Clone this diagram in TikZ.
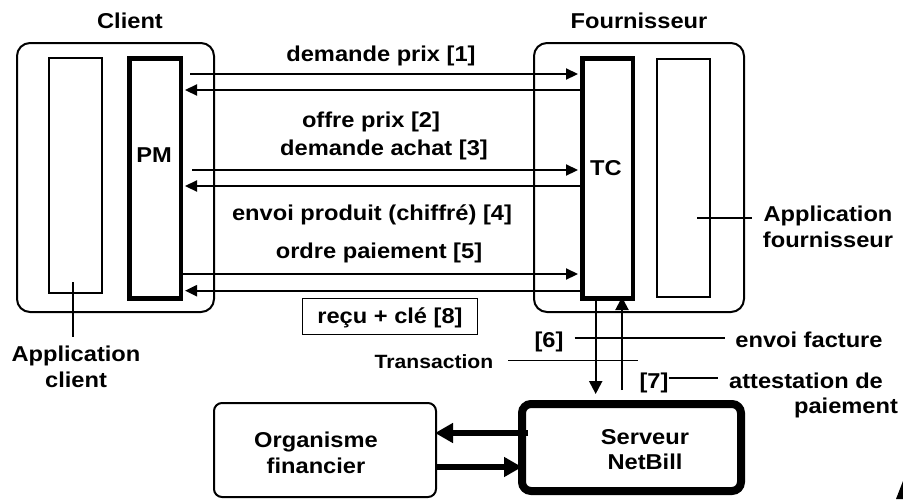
\documentclass[tikz,border=0pt]{standalone}
\usepackage{fontspec}
\setmainfont{Liberation Sans}[FakeStretch=1.1]
\usetikzlibrary{arrows.meta}
\begin{document}
\begin{tikzpicture}[x=1pt,y=-1pt,
  txt/.style={font=\fontsize{21.5}{25.5}\selectfont\bfseries, inner sep=0pt, anchor=base},
  smalltxt/.style={font=\fontsize{19.2}{22}\selectfont\bfseries, inner sep=0pt, anchor=base},
  twoline/.style={font=\fontsize{21.5}{25.5}\selectfont\bfseries, inner sep=0pt, anchor=north, align=center},
  outerbox/.style={draw, line width=2pt, rounded corners=13pt, inner sep=0pt},
  appbox/.style={draw, line width=1.8pt, inner sep=0pt},
  modbox/.style={draw, line width=4.5pt, inner sep=0pt},
  srvbox/.style={draw, line width=8pt, rounded corners=9pt, inner sep=0pt},
  orgbox/.style={draw, line width=2pt, rounded corners=8pt, inner sep=0pt},
  recubox/.style={draw, line width=1.3pt, inner sep=0pt, font=\fontsize{21.5}{25.5}\selectfont\bfseries, text height=15.5pt, text depth=2pt},
  arr/.style={line width=2.2pt, -{Triangle[length=12pt,width=11pt]}},
  varr/.style={line width=2.2pt, -{Triangle[length=13pt,width=13pt]}},
  bigarr/.style={line width=5.5pt, -{Triangle[length=18pt,width=19pt]}},
  leader/.style={line width=1.3pt}
]
\useasboundingbox (0,0) rectangle (903,499);

% containers and modules
\node[outerbox, minimum width=197pt, minimum height=269pt] (client) at (115.5,177.5) {};
\node[outerbox, minimum width=210pt, minimum height=269pt] (four) at (639,177.5) {};
\node[appbox, minimum width=53pt, minimum height=235pt] (appc) at (75.5,175.5) {};
\node[appbox, minimum width=53pt, minimum height=238pt] (appf) at (683.5,177.8) {};
\node[modbox, minimum width=51.5pt, minimum height=240pt] (pm) at (155,178.3) {};
\node[modbox, minimum width=50.5pt, minimum height=240pt] (tc) at (607.5,178.3) {};
\node[srvbox, minimum width=219pt, minimum height=87pt] (srv) at (631.5,447.5) {};
\node[orgbox, minimum width=222pt, minimum height=94pt] (org) at (325,450) {};
\node[recubox, minimum width=175pt, minimum height=36pt] (recu) at (390,316.5) {reçu + clé [8]};

% titles and texts
\node[txt] (clientt) at (130,28) {Client};
\node[txt] (fourt) at (639,28) {Fournisseur};
\node[txt] (pmt) at (154,162.5) {PM};
\node[txt] (tct) at (606,175.5) {TC};
\node[txt] (m1) at (381,61.5) {demande prix [1]};
\node[txt] (m2) at (371,127.5) {offre prix [2]};
\node[txt] (m3) at (384,155.5) {demande achat [3]};
\node[txt] (m4) at (372,220.5) {envoi produit (chiffré) [4]};
\node[txt] (m5) at (379,258.5) {ordre paiement [5]};
\node[twoline] (srvt) at (645,429) {Serveur\\NetBill};
\node[twoline] (orgt) at (316,432) {Organisme\\financier};
\node[twoline] (appcl) at (76,346) {Application\\client};
\node[twoline] (appfl) at (828,206) {Application\\fournisseur};
\node[txt] (l6) at (549,347) {[6]};
\node[txt] (ef) at (809,347) {envoi facture};
\node[smalltxt] (trans) at (434,368.5) {Transaction};
\node[txt] (l7) at (654,388.5) {[7]};
\node[txt] (ae) at (806,388.5) {attestation de};
\node[txt] (pai) at (846,413.5) {paiement};

% message rows
\coordinate (r1) at (0,74);
\coordinate (r2) at (0,90);
\coordinate (r3) at (0,170);
\coordinate (r4) at (0,186);
\coordinate (r5) at (0,274);
\coordinate (r8) at (0,290.7);
\draw[arr, shorten <=7pt, shorten >=2pt] (pm.east |- r1) -- (tc.west |- r1);
\draw[arr, shorten >=2pt] (tc.west |- r2) -- (pm.east |- r2);
\draw[arr, shorten <=9pt, shorten >=2pt] (pm.east |- r3) -- (tc.west |- r3);
\draw[arr, shorten >=2pt] (tc.west |- r4) -- (pm.east |- r4);
\draw[arr, shorten >=2pt] (pm.east |- r5) -- (tc.west |- r5);
\draw[arr, shorten >=2pt] (tc.west |- r8) -- (pm.east |- r8);

% transaction arrows
\coordinate (c6) at (595.7,0);
\coordinate (c7) at (622,0);
\draw[varr, shorten >=6pt] (tc.south -| c6) -- (srv.north -| c6);
\draw[varr, shorten <=10pt, shorten >=-3.5pt] (srv.north -| c7) -- (tc.south -| c7);

% bank arrows
\coordinate (t1) at (0,433);
\coordinate (t2) at (0,467);
\draw[bigarr, shorten <=-10pt, shorten >=-2pt] (srv.west |- t1) -- (org.east |- t1);
\draw[bigarr, shorten >=-4pt] (org.east |- t2) -- (srv.west |- t2);

% leader lines
\coordinate (acp) at (73,282);
\draw[leader, shorten >=9pt] (acp) -- (acp |- appcl.north);
\coordinate (afp) at (697,218);
\draw[leader, shorten >=11pt] (afp) -- (afp -| appfl.west);
\coordinate (y6) at (0,338);
\draw[leader, shorten <=11pt, shorten >=10pt] (l6.east |- y6) -- (ef.west |- y6);
\coordinate (tend) at (638,360.5);
\draw[leader, shorten <=15pt] (trans.east |- tend) -- (tend);
\coordinate (y7) at (0,378);
\draw[leader, shorten >=11pt] (l7.east |- y7) -- (ae.west |- y7);

% cropped shape at the corner
\fill (903,481) -- (896,499) -- (903,499) -- cycle;
\end{tikzpicture}
\end{document}
